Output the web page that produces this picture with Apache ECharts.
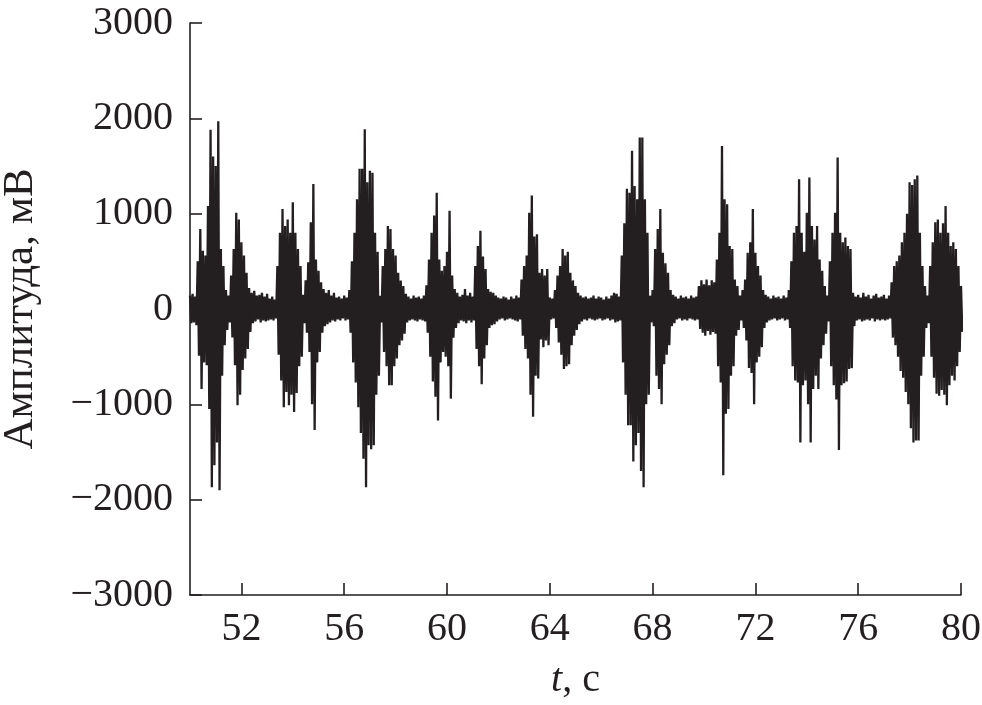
<!DOCTYPE html>
<html><head><meta charset="utf-8">
<script src="https://cdn.jsdelivr.net/npm/echarts@6/dist/echarts.min.js"></script>
<style>html,body{margin:0;padding:0;background:#fff}#c{width:982px;height:705px}</style>
</head><body><div id="c"></div>
<script>
const tStart = 50;
const tStep = 0.1;
const envHigh = [
  140,160,130,500,840,610,560,1080,1880,1600,
  1500,1970,630,450,200,140,350,630,1010,940,
  700,560,380,220,170,190,140,150,170,130,
  160,110,130,100,450,800,1050,870,940,800,
  1120,800,630,450,150,300,490,910,1310,520,
  400,280,210,170,200,140,170,120,130,110,
  140,120,200,500,800,1150,1470,1470,1885,1330,
  1450,1430,800,600,140,450,630,870,840,630,
  560,380,300,240,160,130,110,140,120,130,
  110,140,250,520,800,980,1220,520,400,450,
  600,1030,350,210,170,130,150,210,140,170,
  130,450,660,820,550,420,210,180,170,140,
  120,110,130,120,100,130,110,140,120,310,
  450,560,1010,1190,760,785,380,420,350,420,
  120,110,200,350,450,630,560,600,380,300,
  240,170,140,120,130,110,120,140,110,130,
  120,100,130,110,140,170,160,130,560,900,
  1260,1220,1660,1290,1150,1800,1800,1150,800,140,
  200,630,840,1050,590,480,380,200,150,130,
  110,140,120,130,110,140,120,130,240,300,
  260,310,250,300,280,520,800,1710,1150,1100,
  660,630,310,240,140,200,310,590,700,1050,
  590,450,350,200,150,130,110,140,120,130,
  110,140,120,200,500,800,870,1360,800,600,
  1010,1380,870,730,870,520,400,240,140,500,
  800,1010,1590,800,700,750,660,630,170,130,
  150,120,170,130,150,110,140,160,120,130,
  150,110,140,280,450,500,560,700,800,1000,
  1330,1300,1360,1400,800,450,240,140,450,700,
  910,940,800,900,1080,800,660,700,630,450,
  240
];
const envLow = [
  -150,-140,-170,-490,-840,-560,-590,-1050,-1870,-1640,
  -1400,-1900,-700,-380,-220,-140,-300,-590,-1010,-900,
  -640,-520,-420,-240,-150,-130,-110,-140,-120,-130,
  -120,-110,-120,-100,-480,-750,-1030,-870,-1010,-900,
  -1080,-880,-600,-500,-150,-250,-450,-1000,-1270,-560,
  -450,-250,-180,-160,-140,-120,-130,-110,-120,-100,
  -120,-110,-250,-560,-770,-1030,-1300,-1570,-1870,-1430,
  -1470,-1430,-900,-700,-140,-450,-600,-800,-800,-600,
  -520,-380,-330,-260,-140,-120,-110,-120,-130,-110,
  -120,-130,-250,-500,-760,-920,-1170,-560,-450,-500,
  -600,-940,-300,-200,-150,-120,-130,-150,-120,-140,
  -120,-420,-600,-790,-520,-380,-200,-170,-160,-130,
  -110,-100,-120,-110,-100,-110,-120,-130,-110,-280,
  -420,-520,-900,-1130,-700,-730,-320,-400,-330,-380,
  -110,-100,-200,-350,-480,-630,-600,-580,-380,-280,
  -220,-160,-130,-110,-120,-100,-110,-120,-110,-100,
  -120,-110,-100,-120,-110,-140,-130,-120,-560,-900,
  -1220,-1220,-1600,-1430,-1300,-1700,-1870,-1000,-900,-140,
  -180,-700,-840,-1000,-580,-480,-380,-180,-150,-110,
  -100,-120,-110,-120,-100,-110,-120,-110,-210,-250,
  -280,-230,-270,-240,-260,-600,-770,-1745,-1100,-1050,
  -700,-600,-280,-220,-120,-200,-330,-620,-670,-1000,
  -560,-500,-400,-200,-140,-120,-110,-100,-120,-110,
  -100,-120,-110,-200,-600,-750,-770,-1400,-800,-750,
  -1000,-1400,-840,-700,-840,-520,-380,-260,-130,-600,
  -800,-950,-1480,-800,-780,-760,-630,-620,-180,-120,
  -110,-130,-120,-110,-120,-100,-130,-110,-120,-110,
  -120,-110,-100,-300,-380,-500,-650,-720,-870,-1000,
  -1250,-1400,-1380,-1380,-700,-500,-200,-150,-500,-720,
  -890,-910,-850,-900,-1010,-800,-700,-750,-600,-450,
  -240
];
const xTickValues = [52, 56, 60, 64, 68, 72, 76, 80];
const yMin = -3000, yMax = 3000, yStep = 1000;
const xMin = 50, xMax = 80;
const yAxisTitle = 'Амплитуда, мВ';
const xAxisTitleVar = 't';
const xAxisTitleUnit = ', с';

// Build the signal trace: alternate each bin's positive and negative peak
const trace = [];
for (let i = 0; i < envHigh.length; i++) {
  const t = tStart + i * tStep;
  trace.push([+(t).toFixed(3), envHigh[i]]);
  trace.push([+(t + tStep / 2).toFixed(3), envLow[i]]);
}

const ink = '#231f20';
const serif = '"Liberation Serif", "Times New Roman", "DejaVu Serif", serif';

const chart = echarts.init(document.getElementById('c'), null, {renderer: 'canvas'});
chart.setOption({
  animation: false,
  backgroundColor: '#ffffff',
  grid: {left: 190, right: 21, top: 23, bottom: 110, containLabel: false, outerBoundsMode: 'none'},
  xAxis: {
    type: 'value', min: xMin, max: xMax,
    axisLine: {show: true, onZero: false, lineStyle: {color: ink, width: 1.6}},
    axisTick: {show: true, inside: true, length: 12, customValues: xTickValues, lineStyle: {color: ink, width: 1.6}},
    axisLabel: {customValues: xTickValues, color: ink, fontFamily: serif, fontSize: 40, margin: 14},
    splitLine: {show: false},
    name: '{i|' + xAxisTitleVar + '}' + '{n|' + xAxisTitleUnit + '}',
    nameLocation: 'middle', nameGap: 65,
    nameTextStyle: {
      rich: {
        i: {fontFamily: serif, fontSize: 40, fontStyle: 'italic', color: ink},
        n: {fontFamily: serif, fontSize: 40, color: ink}
      }
    }
  },
  yAxis: {
    type: 'value', min: yMin, max: yMax, interval: yStep,
    axisLine: {show: true, onZero: false, lineStyle: {color: ink, width: 1.6}},
    axisTick: {show: true, inside: true, length: 12, lineStyle: {color: ink, width: 1.6}},
    axisLabel: {
      color: ink, fontFamily: serif, fontSize: 40, margin: 17,
      formatter: v => (v < 0 ? '\u2212' + Math.abs(v) : String(v))
    },
    splitLine: {show: false},
    name: yAxisTitle, nameLocation: 'middle', nameGap: 148, nameRotate: 90,
    nameTextStyle: {fontFamily: serif, fontSize: 43, color: ink}
  },
  series: [{
    type: 'line', data: trace, showSymbol: false, symbol: 'none',
    sampling: 'none', clip: true,
    lineStyle: {color: ink, width: 2.3},
    emphasis: {disabled: true}
  }]
});
</script>
</body></html>
